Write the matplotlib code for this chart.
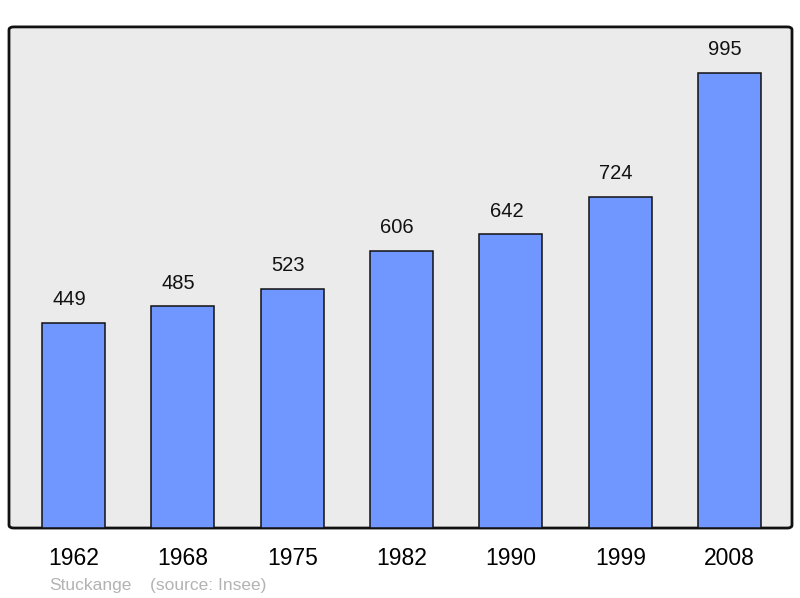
import matplotlib
matplotlib.use("Agg")
import matplotlib.pyplot as plt
from matplotlib.patches import FancyBboxPatch

years = ["1962", "1968", "1975", "1982", "1990", "1999", "2008"]
population = [449, 485, 523, 606, 642, 724, 995]
town = "Stuckange"
source = "(source: Insee)"

plt.rcParams['font.family'] = ['Liberation Sans', 'DejaVu Sans']

fig = plt.figure(figsize=(8, 5.98), dpi=100)
ax = fig.add_axes([0.01125, 0.117, 0.97875, 0.838])
ax.set_facecolor('none')

# rounded frame behind everything
frame = FancyBboxPatch((0, 0), 1, 1, boxstyle="round,pad=0,rounding_size=0.006",
                       transform=ax.transAxes, facecolor='#ebebeb', edgecolor='#111111',
                       lw=2, zorder=0, clip_on=False)
ax.add_patch(frame)

x = range(len(years))
ax.bar(x, population, width=0.576, color='#7097ff', edgecolor='#111111', lw=1.1, zorder=2)
for xi, v in zip(x, population):
    ax.text(xi - 0.04, v + 30, str(v), ha='center', va='bottom', fontsize=14.5, color='#111111')

ax.set_xlim(-0.59, 6.57)
ax.set_ylim(0, 1096)
for s in ax.spines.values():
    s.set_visible(False)
ax.set_yticks([])
ax.set_xticks(list(x))
ax.set_xticklabels(years, fontsize=16.5)
ax.tick_params(axis='x', length=0, pad=14)

fig.text(0.061, 0.013, town, fontsize=12.5, color='#b3b3b3')
fig.text(0.187, 0.013, source, fontsize=12.5, color='#b3b3b3')

fig.savefig("out.png", dpi=100)
